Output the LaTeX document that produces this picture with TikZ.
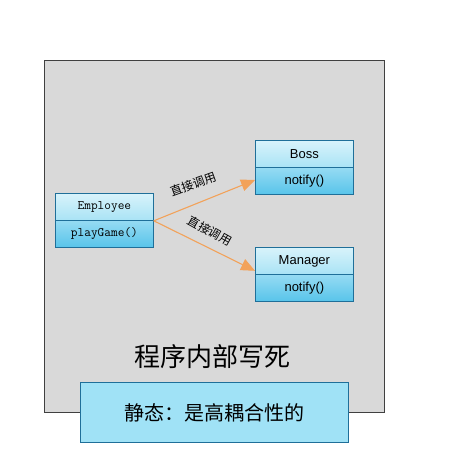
\documentclass[tikz,border=0pt]{standalone}
\usepackage{fontspec}
\setmainfont{Liberation Sans}
\newfontfamily\cjk{Noto Sans CJK SC}
\usetikzlibrary{arrows.meta}
\definecolor{bgray}{HTML}{D9D9D9}
\definecolor{edgegray}{HTML}{404040}
\definecolor{topA}{HTML}{D8F3FB}
\definecolor{topB}{HTML}{A9E3F5}
\definecolor{botA}{HTML}{96DBF3}
\definecolor{botB}{HTML}{58C4EA}
\definecolor{boxedge}{HTML}{1F6F99}
\definecolor{orangeA}{HTML}{F2A25A}
\definecolor{noteblue}{HTML}{A0E2F6}
\begin{document}
\begin{tikzpicture}[x=1pt,y=-1pt,
  clstop/.style={draw=boxedge,line width=0.8pt,top color=topA,bottom color=topB,
    minimum width=98pt,minimum height=27pt,inner sep=0pt,anchor=north west,font=\fontsize{13}{15}\selectfont},
  clsbot/.style={draw=boxedge,line width=0.8pt,top color=botA,bottom color=botB,
    minimum width=98pt,minimum height=27pt,inner sep=0pt,anchor=north west,font=\fontsize{13}{15}\selectfont},
  monotext/.style={font=\ttfamily\fontsize{13}{15}\selectfont},
  callarrow/.style={draw=orangeA,line width=1.1pt,-{Triangle[length=14pt,width=12pt,fill=orangeA]}},
  lbl/.style={font=\cjk\fontsize{12}{14}\selectfont,inner sep=0pt}]
\useasboundingbox (0,0) rectangle (455,474);
\fill[white] (0,0) rectangle (455,474);
\node[draw=edgegray,fill=bgray,line width=1pt,minimum width=340pt,minimum height=352pt,anchor=north west,inner sep=0pt] (bg) at (44,60) {};
% Employee
\node[clstop,monotext] (empT) at (55,193) {Employee};
\node[clsbot,monotext] (empM) at (55,220) {playGame()};
% Boss
\node[clstop] (bossT) at (255,140) {Boss};
\node[clsbot] (bossM) at (255,167) {notify()};
% Manager
\node[clstop] (manT) at (255,247) {Manager};
\node[clsbot] (manM) at (255,274) {notify()};
% arrows
\coordinate (src) at (empT.south east);
\coordinate (bossIn) at ([yshift=-13pt]bossM.north west);
\coordinate (manIn) at ([yshift=4pt]manT.south west);
\draw[callarrow] (src) -- (bossIn);
\draw[callarrow] (src) -- (manIn);
\node[lbl,rotate=20] (l1) at (193,184) {直接调用};
\node[lbl,rotate=-29] (l2) at (210,231) {直接调用};
% title
\node[font=\cjk\fontsize{26}{30}\selectfont,inner sep=0pt] (title) at (212,357) {程序内部写死};
% note
\node[draw=boxedge,fill=noteblue,line width=0.8pt,minimum width=268pt,minimum height=60pt,anchor=north west,inner sep=0pt,font=\cjk\fontsize{20}{24}\selectfont] (note) at (80,382) {静态：是高耦合性的};
\end{tikzpicture}
\end{document}
